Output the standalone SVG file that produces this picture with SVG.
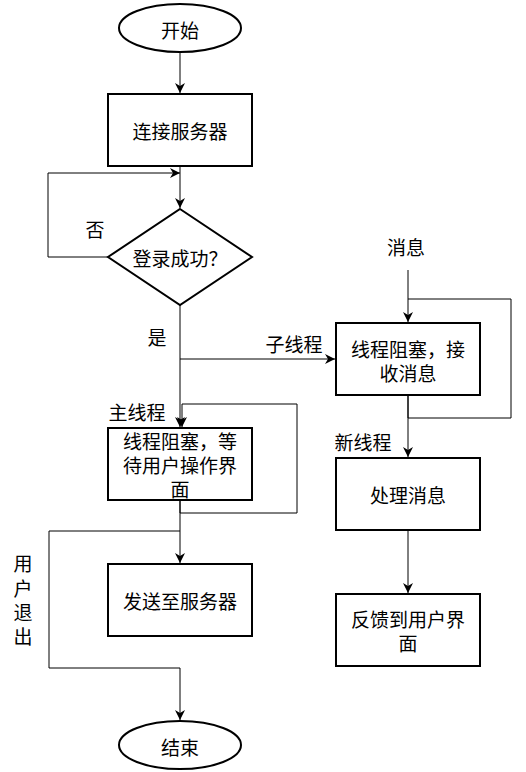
<svg xmlns="http://www.w3.org/2000/svg" width="526" height="772" viewBox="0 0 526 772">
<style>
.node{fill:#fff;stroke:#000;stroke-width:2}
.t{font-family:"Noto Sans CJK SC","Noto Sans",sans-serif;font-size:19px;fill:#000;text-anchor:middle;dominant-baseline:central}
.c{fill:none;stroke:#000;stroke-width:1}
</style>
<defs>
<marker id="a" markerUnits="userSpaceOnUse" markerWidth="12" markerHeight="10" refX="10" refY="5" orient="auto">
<path d="M0,0 L10,5 L0,10 L3,5 Z" fill="#000"/>
</marker>
</defs>
<rect width="526" height="772" fill="#fff"/>
<g id="connectors">
<path class="c" d="M180,52 V93" marker-end="url(#a)"/>
<path class="c" d="M180,166 V208" marker-end="url(#a)"/>
<path class="c" d="M108,257 H48 V173 H180" marker-end="url(#a)"/>
<path class="c" d="M180,305 V427" marker-end="url(#a)"/>
<path class="c" d="M180,359 H335" marker-end="url(#a)"/>
<path class="c" d="M408,270 V322" marker-end="url(#a)"/>
<path class="c" d="M408,395 V418 H511 V299 H408"/>
<path class="c" d="M408,395 V457" marker-end="url(#a)"/>
<path class="c" d="M408,530 V593" marker-end="url(#a)"/>
<path class="c" d="M180,500 V513 H297 V404 H182 V427" marker-end="url(#a)"/>
<path class="c" d="M180,500 V563" marker-end="url(#a)"/>
<path class="c" d="M180,531 H49 V668 H180 V720" marker-end="url(#a)"/>
</g>
<g id="start"><ellipse class="node" cx="180" cy="28" rx="61" ry="24"/><text class="t" x="180" y="29">开始</text></g>
<g id="connect"><rect class="node" x="108" y="94" width="144" height="72"/><text class="t" x="180" y="130">连接服务器</text></g>
<g id="decision"><path class="node" d="M180,209 L252,257 L180,305 L108,257 Z"/><text class="t" x="180" y="257">登录成功？</text></g>
<g id="mainwait"><rect class="node" x="108" y="428" width="144" height="72"/><text class="t" x="180" y="440">线程阻塞，等</text><text class="t" x="180" y="464">待用户操作界</text><text class="t" x="180" y="488">面</text></g>
<g id="send"><rect class="node" x="108" y="564" width="144" height="72"/><text class="t" x="180" y="600">发送至服务器</text></g>
<g id="end"><ellipse class="node" cx="180" cy="745" rx="61" ry="24"/><text class="t" x="180" y="746">结束</text></g>
<g id="recv"><rect class="node" x="336" y="323" width="144" height="72"/><text class="t" x="408" y="348">线程阻塞，接</text><text class="t" x="408" y="372">收消息</text></g>
<g id="process"><rect class="node" x="336" y="458" width="144" height="72"/><text class="t" x="408" y="494">处理消息</text></g>
<g id="feedback"><rect class="node" x="336" y="594" width="144" height="72"/><text class="t" x="408" y="618">反馈到用户界</text><text class="t" x="408" y="642">面</text></g>
<g id="labels">
<text class="t" x="95" y="228">否</text>
<text class="t" x="157" y="336">是</text>
<text class="t" x="294" y="343">子线程</text>
<text class="t" x="137" y="411">主线程</text>
<text class="t" x="363" y="441">新线程</text>
<text class="t" x="406" y="246">消息</text>
<text class="t" x="23" y="562">用</text>
<text class="t" x="23" y="587">户</text>
<text class="t" x="23" y="611">退</text>
<text class="t" x="23" y="635">出</text>
</g>
</svg>
